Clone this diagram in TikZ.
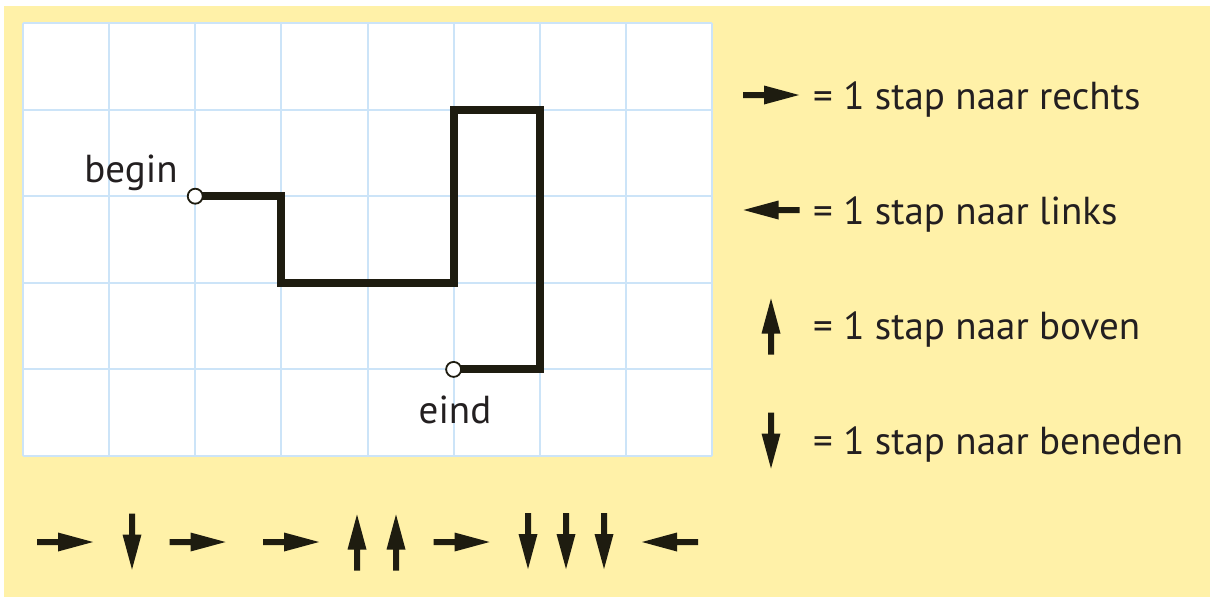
\documentclass[tikz,border=0pt]{standalone}
\usepackage{fontspec}
\setmainfont{PT Sans}
\definecolor{bgyellow}{RGB}{255,241,168}
\definecolor{gridblue}{RGB}{204,228,248}
\definecolor{ink}{RGB}{30,28,16}
\definecolor{txt}{RGB}{35,31,32}
\tikzset{
  gridline/.style={draw=gridblue, line width=2pt},
  route/.style={draw=ink, line width=8pt, line join=miter},
  dot/.style={circle, draw=ink, line width=1.8pt, fill=white, minimum size=15pt, inner sep=0pt},
  lbl/.style={text=txt, inner sep=0pt, font=\fontsize{39}{47}\selectfont},
  legend/.style={lbl, anchor=base west},
  arR/.pic={\fill[ink] (-28,-3) -- (-7,-3) -- (-7,-9.5) -- (28,0) -- (-7,9.5) -- (-7,3) -- (-28,3) -- cycle;},
  arL/.pic={\fill[ink] (28,-3) -- (7,-3) -- (7,-9.5) -- (-28,0) -- (7,9.5) -- (7,3) -- (28,3) -- cycle;},
  arD/.pic={\fill[ink] (-3,-28) -- (-3,-7) -- (-9.5,-7) -- (0,28) -- (9.5,-7) -- (3,-7) -- (3,-28) -- cycle;},
  arU/.pic={\fill[ink] (-3,28) -- (-3,7) -- (-9.5,7) -- (0,-28) -- (9.5,7) -- (3,7) -- (3,28) -- cycle;}
}
\begin{document}
\begin{tikzpicture}[x=1pt,y=-1pt]
\useasboundingbox (0,0) rectangle (1214,597);
\fill[white] (0,0) rectangle (1214,597);
\fill[bgyellow] (4,6) rectangle (1210,597);
% grid
\fill[white] (23,23) rectangle (712,456);
\foreach \i in {0,...,8} {
  \draw[gridline] ({23+\i*86.125},23) -- ({23+\i*86.125},456);
}
\foreach \j in {0,...,5} {
  \draw[gridline] (23,{23+\j*86.6}) -- (712,{23+\j*86.6});
}
% route
\coordinate (cb) at (195.25,196.2);
\coordinate (ce) at (453.625,369.4);
\coordinate (c1) at (281.375,282.8);
\coordinate (c2) at (453.625,109.6);
\coordinate (c3) at (539.75,369.4);
\draw[route] (cb) -| (c1) -| (c2) -| (c3) -- (ce);
\node[dot] (b) at (cb) {};
\node[dot] (e) at (ce) {};
\node[lbl, anchor=base] (tb) at (131,182) {begin};
\node[lbl, anchor=base] (te) at (455,423) {eind};
% legend
\pic (lr) at (771,95) {arR};
\pic (ll) at (771.5,210) {arL};
\pic (lu) at (771,326.5) {arU};
\pic (ld) at (771,440.5) {arD};
\node[legend] (t1) at (813,109) {= 1 stap naar rechts};
\node[legend] (t2) at (813,224) {= 1 stap naar links};
\node[legend] (t3) at (813,339) {= 1 stap naar boven};
\node[legend] (t4) at (813,454) {= 1 stap naar beneden};
% sequence
\pic (s1) at (65,542) {arR};
\pic (s2) at (132,541.5) {arD};
\pic (s3) at (197.5,542) {arR};
\pic (s4) at (291,542) {arR};
\pic (s5) at (357,542.5) {arU};
\pic (s6) at (396,542.5) {arU};
\pic (s7) at (461.5,542) {arR};
\pic (s8) at (528,541) {arD};
\pic (s9) at (566,541) {arD};
\pic (s10) at (604,541) {arD};
\pic (s11) at (670,542) {arL};
\end{tikzpicture}
\end{document}
